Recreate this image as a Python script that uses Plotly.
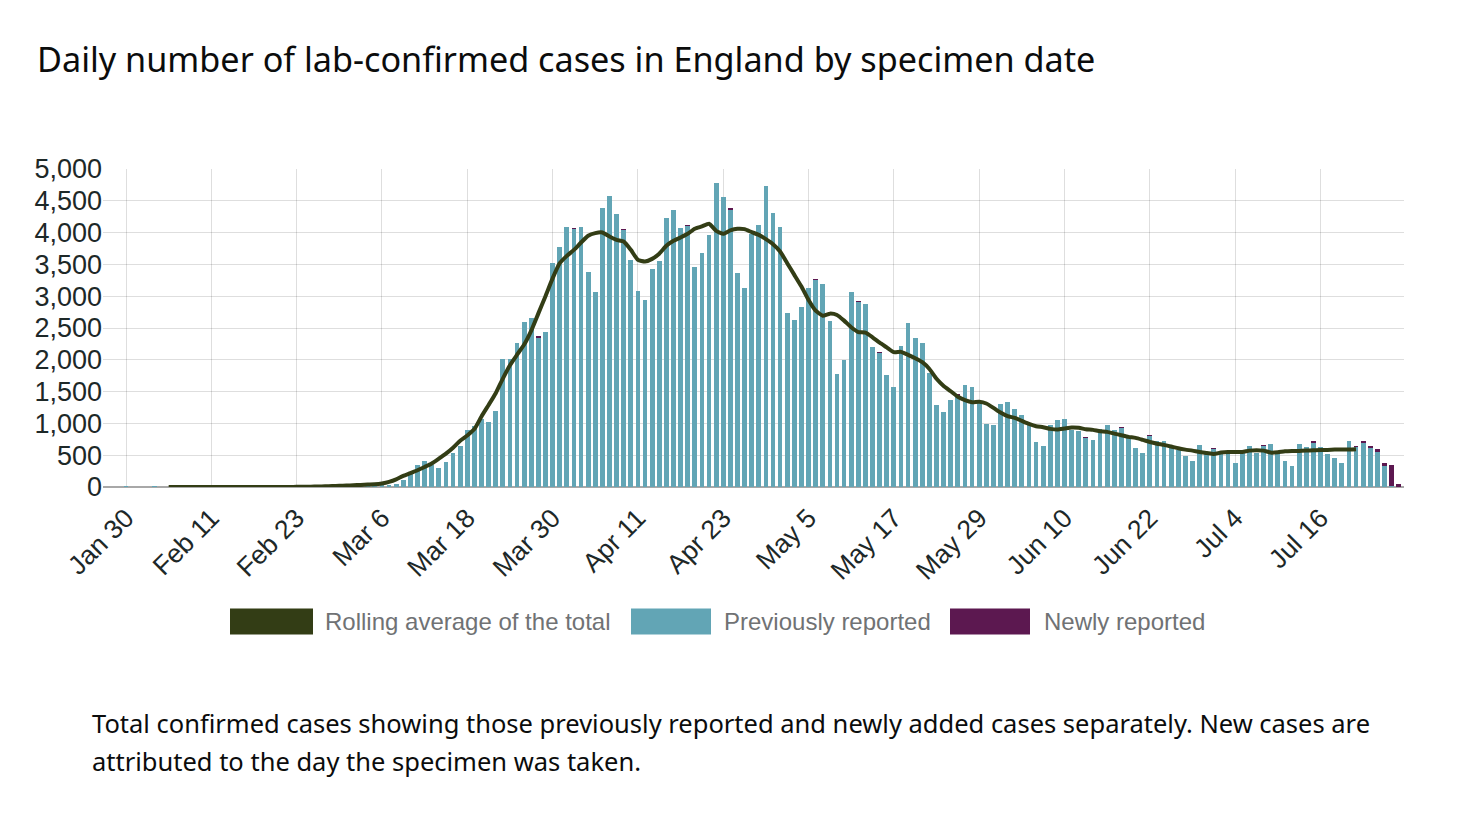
import pandas as pd
import plotly.graph_objects as go

# ---------------- data ----------------
start_date = "2020-01-30"
# previously reported cases, one value per day from Jan 30 to Jul 27
prev_jan = [2, 0]
prev_feb = [0, 0, 1, 0, 0, 1, 0, 0, 1, 2, 1, 0, 0, 0, 0, 0, 0, 0, 0, 1,
            1, 2, 1, 3, 4, 6, 9, 14, 18]
prev_mar = [24, 30, 38, 45, 50, 48, 35, 42, 116, 200, 341, 404, 352, 305, 394, 536,
            650, 900, 955, 1070, 1024, 1197, 2011, 2011, 2258, 2600, 2652, 2358, 2432, 3516, 3774]
prev_apr = [4090, 4065, 4090, 3380, 3072, 4383, 4574, 4291, 4049, 3568, 3075, 2936, 3430, 3556, 4228,
            4359, 4073, 4113, 3463, 3676, 3960, 4787, 4559, 4367, 3361, 3125, 3981, 4118, 4737, 4307]
prev_may = [4086, 2731, 2626, 2836, 3135, 3260, 3193, 2612, 1780, 1998, 3060, 2915, 2870, 2201, 2112,
            1759, 1580, 2210, 2573, 2337, 2258, 1786, 1287, 1182, 1366, 1445, 1602, 1565, 1320, 990, 972]
prev_jun = [1302, 1329, 1220, 1129, 978, 709, 650, 982, 1047, 1077, 900, 885, 778, 735, 915,
            982, 903, 930, 775, 620, 541, 804, 720, 720, 609, 578, 485, 402, 656, 546]
prev_jul = [599, 528, 525, 378, 528, 641, 538, 646, 672, 522, 407, 336, 672, 632, 707,
            625, 525, 452, 370, 720, 635, 700, 626, 551, 330, 12, 0]

# newly reported cases (all other days are zero)
new_dates = ["2020-03-28", "2020-04-02", "2020-04-09", "2020-04-18", "2020-04-24",
             "2020-05-06", "2020-05-12", "2020-05-15", "2020-05-26", "2020-06-13",
             "2020-06-18", "2020-06-22", "2020-07-01", "2020-07-08", "2020-07-15",
             "2020-07-21", "2020-07-22", "2020-07-23", "2020-07-24", "2020-07-25",
             "2020-07-26", "2020-07-27"]
new_values = [5, 5, 5, 5, 5, 7, 5, 5, 5, 5, 5, 5, 5, 8, 7, 5, 20, 25, 50, 50, 330, 47]

# rolling average of the total, Feb 5 to Jul 21
avg_start = "2020-02-05"
avg_feb = [1, 1, 1, 1, 1, 1, 1, 1, 1, 0, 0, 0, 0, 0, 0, 0, 1, 1, 2, 3, 5, 7, 10, 14, 18]
avg_mar = [23, 28, 33, 38, 42, 55, 80, 120, 175, 218, 263, 315, 370, 446, 525, 618,
           728, 810, 910, 1110, 1290, 1475, 1705, 1915, 2080, 2240, 2460, 2730, 3000, 3280, 3519]
avg_apr = [3634, 3729, 3844, 3950, 3992, 4002, 3939, 3886, 3860, 3729, 3571, 3545, 3587, 3668, 3792,
           3871, 3923, 3981, 4060, 4097, 4139, 4028, 3981, 4034, 4060, 4054, 4007, 3965, 3897, 3818]
avg_may = [3703, 3519, 3335, 3151, 2941, 2773, 2694, 2726, 2705, 2616, 2511, 2437, 2426, 2353, 2269,
           2195, 2120, 2125, 2077, 2025, 1962, 1856, 1702, 1589, 1505, 1418, 1366, 1334, 1339, 1313, 1245]
avg_jun = [1171, 1113, 1087, 1040, 993, 956, 940, 914, 903, 919, 935, 930, 909, 898, 877,
           867, 840, 814, 788, 772, 741, 707, 681, 662, 636, 609, 588, 572, 551, 536]
avg_jul = [520, 541, 551, 551, 551, 572, 578, 572, 541, 546, 562, 567, 567, 572, 578,
           583, 583, 588, 588, 588, 593]

tick_dates = ["2020-01-30", "2020-02-11", "2020-02-23", "2020-03-06", "2020-03-18",
              "2020-03-30", "2020-04-11", "2020-04-23", "2020-05-05", "2020-05-17",
              "2020-05-29", "2020-06-10", "2020-06-22", "2020-07-04", "2020-07-16"]
tick_labels = ["Jan 30", "Feb 11", "Feb 23", "Mar 6", "Mar 18", "Mar 30", "Apr 11",
               "Apr 23", "May 5", "May 17", "May 29", "Jun 10", "Jun 22", "Jul 4", "Jul 16"]
y_ticks = [0, 500, 1000, 1500, 2000, 2500, 3000, 3500, 4000, 4500, 5000]

title_text = "Daily number of lab-confirmed cases in England by specimen date"
legend_labels = ["Rolling average of the total", "Previously reported", "Newly reported"]
footer_lines = ["Total confirmed cases showing those previously reported and newly added cases separately. New cases are",
                "attributed to the day the specimen was taken."]

# ---------------- build series ----------------
prev = prev_jan + prev_feb + prev_mar + prev_apr + prev_may + prev_jun + prev_jul
dates = pd.date_range(start_date, periods=len(prev), freq="D")
new_map = dict(zip(pd.to_datetime(new_dates), new_values))
new = [new_map.get(d, 0) for d in dates]
avg = avg_feb + avg_mar + avg_apr + avg_may + avg_jun + avg_jul
avg_dates = pd.date_range(avg_start, periods=len(avg), freq="D")

# ---------------- style ----------------
W, H = 1478, 822
PL, PR, PT, PB = 103, 1404, 169.3, 486.7
C_PREV = "#62a5b5"
C_NEW = "#5c1850"
C_AVG = "#333d15"
GRID = "rgba(0,0,0,0.13)"


def px(x):
    return (x - PL) / (PR - PL)


def py(y):
    return (PB - y) / (PB - PT)


fig = go.Figure()
fig.add_trace(go.Bar(x=dates, y=prev, marker=dict(color=C_PREV, line=dict(width=0)),
                     name=legend_labels[1]))
fig.add_trace(go.Bar(x=dates, y=new, marker=dict(color=C_NEW, line=dict(width=0)),
                     name=legend_labels[2]))
fig.add_trace(go.Scatter(x=avg_dates, y=avg, mode="lines",
                         line=dict(color=C_AVG, width=4, shape="spline", smoothing=0.5),
                         name=legend_labels[0]))

fig.update_layout(
    width=W, height=H,
    margin=dict(l=PL, r=W - PR, t=PT, b=H - PB, pad=0),
    paper_bgcolor="white", plot_bgcolor="white",
    barmode="stack", bargap=0.33,
    showlegend=False,
    font=dict(family="Liberation Sans, Arial, sans-serif", color="#1d2828"),
)
fig.update_xaxes(
    type="date",
    range=["2020-01-26 18:20", "2020-07-27 18:00"],
    tickvals=tick_dates, ticktext=tick_labels, tickangle=-45,
    tickfont=dict(size=26.5, color="#1d2828"),
    showgrid=True, gridcolor=GRID, gridwidth=1.3,
    ticks="outside", ticklen=4, tickcolor="rgba(0,0,0,0)",
    showline=False, zeroline=False,
)
fig.update_yaxes(
    range=[0, 5000],
    tickvals=y_ticks, tickformat=",",
    tickfont=dict(size=27, color="#1d2828"),
    showgrid=True, gridcolor=GRID, gridwidth=1.3,
    zeroline=True, zerolinecolor="#a8a8a8", zerolinewidth=1.5,
    ticks="", showline=False,
)

# title
fig.add_annotation(text=title_text, xref="paper", yref="paper", x=px(35), y=py(59),
                   xanchor="left", yanchor="middle", showarrow=False,
                   font=dict(family="Noto Sans, sans-serif", size=34.2, color="#0b0c0c"))

# legend (drawn manually with large swatches)
legend_items = [(230, 313, 323, C_AVG), (631, 711, 722, C_PREV), (950, 1030, 1042, C_NEW)]
for (sx0, sx1, tx, col), lab in zip(legend_items, legend_labels):
    fig.add_shape(type="rect", xref="paper", yref="paper", x0=px(sx0), x1=px(sx1),
                  y0=py(634), y1=py(608), fillcolor=col, line=dict(width=0))
    fig.add_annotation(text=lab, xref="paper", yref="paper", x=px(tx), y=py(621),
                       xanchor="left", yanchor="middle", showarrow=False,
                       font=dict(family="Liberation Sans, Arial, sans-serif", size=24, color="#707274"))

# footer
for line, yy in zip(footer_lines, [722, 760]):
    fig.add_annotation(text=line, xref="paper", yref="paper", x=px(90), y=py(yy),
                       xanchor="left", yanchor="middle", showarrow=False,
                       font=dict(family="Noto Sans, sans-serif", size=25.5, color="#0b0c0c"))

fig.write_html("out.html")
